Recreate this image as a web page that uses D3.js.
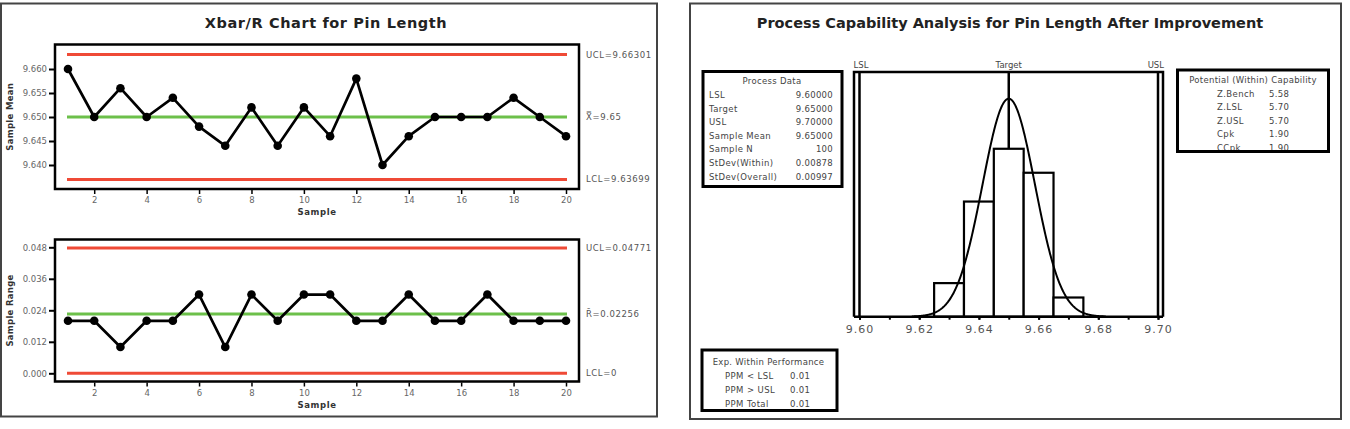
<!DOCTYPE html>
<html><head><meta charset="utf-8">
<script src="https://cdn.jsdelivr.net/npm/d3@7/dist/d3.min.js"></script>
<style>
body{margin:0;background:#fff;}
svg{display:block;}
text{font-family:"DejaVu Sans",Verdana,sans-serif;}
</style></head>
<body><svg id="c" width="1350" height="429"></svg>
<script>
// ---------- DATA ----------
const samples = d3.range(1, 21);
const sampleMeans = [9.660,9.650,9.656,9.650,9.654,9.648,9.644,9.652,9.644,9.652,9.646,9.658,9.640,9.646,9.650,9.650,9.650,9.654,9.650,9.646];
const sampleRanges = [0.02,0.02,0.01,0.02,0.02,0.03,0.01,0.03,0.02,0.03,0.03,0.02,0.02,0.03,0.02,0.02,0.03,0.02,0.02,0.02];
const meanLimits = {ucl:9.66301, center:9.65, lcl:9.63699};
const rangeLimits = {ucl:0.04771, center:0.02256, lcl:0};
const meanTicks = [9.640,9.645,9.650,9.655,9.660];
const rangeTicks = [0.000,0.012,0.024,0.036,0.048];
const sampleTicks = [2,4,6,8,10,12,14,16,18,20];

const binLeft = [9.625,9.635,9.645,9.655,9.665];
const binWidth = 0.01;
const binCounts = [7,24,35,30,4];
const histMajorTicks = [9.60,9.62,9.64,9.66,9.68,9.70];
const histMinorTicks = [9.60,9.61,9.62,9.63,9.64,9.65,9.66,9.67,9.68,9.69,9.70];
const specs = {lsl:9.60, target:9.65, usl:9.70};
const fitMean = 9.65, fitSd = 0.00878, fitN = 100;

const processDataLabels = ["LSL","Target","USL","Sample Mean","Sample N","StDev(Within)","StDev(Overall)"];
const processDataValues = ["9.60000","9.65000","9.70000","9.65000","100","0.00878","0.00997"];
const capLabels = ["Z.Bench","Z.LSL","Z.USL","Cpk","CCpk"];
const capValues = ["5.58","5.70","5.70","1.90","1.90"];
const perfLabels = ["PPM < LSL","PPM > USL","PPM Total"];
const perfValues = ["0.01","0.01","0.01"];

// ---------- DRAW ----------
const svg = d3.select("#c");
const RED = "#ef4a36", GREEN = "#6cc04a";

// panel frames
svg.append("rect").attr("x",1).attr("y",3.5).attr("width",656).attr("height",413)
  .attr("fill","none").attr("stroke","#444").attr("stroke-width",2);
svg.append("rect").attr("x",690).attr("y",3.5).attr("width",651).attr("height",415.5)
  .attr("fill","none").attr("stroke","#444").attr("stroke-width",2);

// titles
svg.append("text").attr("x",326).attr("y",28).attr("text-anchor","middle")
  .attr("font-size",14.5).attr("font-weight","bold").attr("fill","#222").attr("letter-spacing",0.6)
  .text("Xbar/R Chart for Pin Length");
svg.append("text").attr("x",1010).attr("y",28).attr("text-anchor","middle")
  .attr("font-size",14.5).attr("font-weight","bold").attr("fill","#222")
  .text("Process Capability Analysis for Pin Length After Improvement");

const x = d3.scaleLinear().domain([1,20]).range([68,566]);
const frameX0 = 55, frameX1 = 579;

function controlChart(cfg){
  const {y, top, bottom, data, limits, ticks, fmt, title, labels} = cfg;
  const g = svg.append("g");
  const xl0 = x(1)-1, xl1 = x(20)+1;
  g.append("line").attr("x1",xl0).attr("x2",xl1).attr("y1",y(limits.ucl)).attr("y2",y(limits.ucl))
    .attr("stroke",RED).attr("stroke-width",3);
  g.append("line").attr("x1",xl0).attr("x2",xl1).attr("y1",y(limits.lcl)).attr("y2",y(limits.lcl))
    .attr("stroke",RED).attr("stroke-width",3);
  g.append("line").attr("x1",xl0).attr("x2",xl1).attr("y1",y(limits.center)).attr("y2",y(limits.center))
    .attr("stroke",GREEN).attr("stroke-width",3);
  g.append("path").datum(data).attr("fill","none").attr("stroke","#000").attr("stroke-width",2.7)
    .attr("stroke-linejoin","round")
    .attr("d", d3.line().x((d,i)=>x(samples[i])).y(d=>y(d)));
  g.selectAll("circle.m").data(data).join("circle").attr("class","m")
    .attr("cx",(d,i)=>x(samples[i])).attr("cy",d=>y(d)).attr("r",4.3).attr("fill","#000");
  g.append("rect").attr("x",frameX0).attr("y",top).attr("width",frameX1-frameX0).attr("height",bottom-top)
    .attr("fill","none").attr("stroke","#000").attr("stroke-width",2.5);
  const ya = g.append("g").attr("transform",`translate(${frameX0-1},0)`)
    .call(d3.axisLeft(y).tickValues(ticks).tickFormat(fmt).tickSize(5).tickPadding(2));
  ya.select(".domain").remove();
  ya.selectAll("line").attr("stroke","#000").attr("stroke-width",2);
  ya.selectAll("text").attr("font-size",8.5).attr("fill","#666").attr("font-family","DejaVu Sans");
  const xa = g.append("g").attr("transform",`translate(0,${bottom+1})`)
    .call(d3.axisBottom(x).tickValues(sampleTicks).tickSize(4).tickPadding(3));
  xa.select(".domain").remove();
  xa.selectAll("line").attr("stroke","#000").attr("stroke-width",1.5);
  xa.selectAll("text").attr("font-size",8.5).attr("fill","#666").attr("font-family","DejaVu Sans");
  g.append("text").attr("x",(frameX0+frameX1)/2).attr("y",bottom+26).attr("text-anchor","middle")
    .attr("font-size",8.5).attr("font-weight","bold").attr("fill","#333").attr("letter-spacing",0.6).text("Sample");
  g.append("text").attr("transform",`translate(13,${(top+bottom)/2}) rotate(-90)`).attr("text-anchor","middle")
    .attr("font-size",8.5).attr("font-weight","bold").attr("fill","#333").attr("letter-spacing",0.3).text(title);
  [[limits.ucl,labels[0]],[limits.center,labels[1]],[limits.lcl,labels[2]]].forEach(([v,t])=>{
    g.append("text").attr("x",586).attr("y",y(v)).attr("dy","0.35em").attr("font-size",8.5)
      .attr("fill","#555").attr("letter-spacing",0.6).text(t);
  });
}

controlChart({
  y: d3.scaleLinear().domain([9.640,9.660]).range([165,69]),
  top:44.5, bottom:189, data:sampleMeans, limits:meanLimits, ticks:meanTicks, fmt:d3.format(".3f"),
  title:"Sample Mean",
  labels:["UCL=9.66301","X\u033F=9.65","LCL=9.63699"]
});
controlChart({
  y: d3.scaleLinear().domain([0,0.048]).range([373.3,247.3]),
  top:239.5, bottom:381.5, data:sampleRanges, limits:rangeLimits, ticks:rangeTicks, fmt:d3.format(".3f"),
  title:"Sample Range",
  labels:["UCL=0.04771","R\u0304=0.02256","LCL=0"]
});

// ---------- Histogram ----------
const hx = d3.scaleLinear().domain([9.60,9.70]).range([859.5,1158]);
const hy = d3.scaleLinear().domain([0,51]).range([316.7,72]);
const hg = svg.append("g");
const hTop = hy(51), hBot = hy(0);
hg.append("line").attr("x1",hx(specs.target)).attr("x2",hx(specs.target)).attr("y1",hTop).attr("y2",hBot)
  .attr("stroke","#000").attr("stroke-width",2.5);
hg.selectAll("rect.bar").data(binCounts).join("rect").attr("class","bar")
  .attr("x",(d,i)=>hx(binLeft[i])).attr("width",(d,i)=>hx(binLeft[i]+binWidth)-hx(binLeft[i]))
  .attr("y",d=>hy(d)).attr("height",d=>hBot-hy(d))
  .attr("fill","#fff").attr("stroke","#000").attr("stroke-width",2.2);
// fitted normal curve (from Process Data mean and StDev(Within))
const curveX = d3.range(fitMean-3.7*fitSd, fitMean+3.7*fitSd+1e-9, fitSd/40);
const pdf = v => fitN*binWidth/(fitSd*Math.sqrt(2*Math.PI))*Math.exp(-0.5*((v-fitMean)/fitSd)**2);
hg.append("path").datum(curveX).attr("fill","none").attr("stroke","#000").attr("stroke-width",2)
  .attr("d", d3.line().x(d=>hx(d)).y(d=>hy(pdf(d))));
[specs.lsl, specs.usl].forEach(v=>{
  hg.append("line").attr("x1",hx(v)).attr("x2",hx(v)).attr("y1",hTop).attr("y2",hBot)
    .attr("stroke","#000").attr("stroke-width",2.5);
});
hg.append("path").attr("d",`M${hx(9.60)-5.5},${hBot}V${hTop}H${hx(9.70)+5}V${hBot}`)
  .attr("fill","none").attr("stroke","#000").attr("stroke-width",2.5);
hg.append("line").attr("x1",hx(9.60)-5.5).attr("x2",hx(9.70)+5).attr("y1",hBot).attr("y2",hBot)
  .attr("stroke","#000").attr("stroke-width",2.5);
const hMinor = hg.append("g").attr("transform",`translate(0,${hBot})`)
  .call(d3.axisBottom(hx).tickValues(histMinorTicks).tickSize(3).tickFormat(""));
hMinor.select(".domain").remove();
hMinor.selectAll("line").attr("stroke","#000").attr("stroke-width",2);
const hMajor = hg.append("g").attr("transform",`translate(0,${hBot})`)
  .call(d3.axisBottom(hx).tickValues(histMajorTicks).tickSize(3).tickPadding(6).tickFormat(d3.format(".2f")));
hMajor.select(".domain").remove();
hMajor.selectAll("line").attr("stroke","#000").attr("stroke-width",2);
hMajor.selectAll("text").attr("font-size",11).attr("fill","#555").attr("letter-spacing",1).attr("font-family","DejaVu Sans");
hg.append("text").attr("x",hx(9.60)-6).attr("y",68).attr("font-size",8.5).attr("fill","#444").text("LSL");
hg.append("text").attr("x",hx(specs.target)).attr("y",68).attr("text-anchor","middle").attr("font-size",8.5).attr("fill","#444").text("Target");
hg.append("text").attr("x",hx(9.70)+6).attr("y",68).attr("text-anchor","end").attr("font-size",8.5).attr("fill","#444").text("USL");

// ---------- Info boxes ----------
function infoBox(cfg){
  const {x0,y0,w,h,title,titleX,titleY,labels,values,labX,valX,valAnchor,rowY,step,id} = cfg;
  const g = svg.append("g");
  g.append("clipPath").attr("id",id).append("rect").attr("x",x0).attr("y",y0).attr("width",w).attr("height",h);
  const t = g.append("g").attr("clip-path",`url(#${id})`);
  t.append("text").attr("x",titleX).attr("y",titleY).attr("dy","0.35em").attr("text-anchor","middle")
    .attr("font-size",8.5).attr("fill","#444").attr("letter-spacing",0.3).text(title);
  labels.forEach((l,i)=>{
    t.append("text").attr("x",labX).attr("y",rowY+i*step).attr("dy","0.35em").attr("font-size",8.5)
      .attr("fill","#444").attr("letter-spacing",0.4).text(l);
    t.append("text").attr("x",valX).attr("y",rowY+i*step).attr("dy","0.35em").attr("font-size",8.5)
      .attr("text-anchor",valAnchor).attr("fill","#444").attr("letter-spacing",0.3).text(values[i]);
  });
  g.append("rect").attr("x",x0).attr("y",y0).attr("width",w).attr("height",h)
    .attr("fill","none").attr("stroke","#000").attr("stroke-width",3);
}
infoBox({id:"cp1",x0:703,y0:71.5,w:139,h:115,title:"Process Data",titleX:772,titleY:81.5,
  labels:processDataLabels,values:processDataValues,labX:709,valX:833,valAnchor:"end",rowY:95,step:13.6});
infoBox({id:"cp2",x0:1177.5,y0:70,w:151,h:81.5,title:"Potential (Within) Capability",titleX:1253,titleY:80.5,
  labels:capLabels,values:capValues,labX:1217,valX:1269,valAnchor:"start",rowY:94,step:13.4});
infoBox({id:"cp3",x0:702,y0:350,w:135,h:60.5,title:"Exp. Within Performance",titleX:768.5,titleY:362.5,
  labels:perfLabels,values:perfValues,labX:725,valX:790,valAnchor:"start",rowY:376.5,step:13.6});
</script></body></html>
